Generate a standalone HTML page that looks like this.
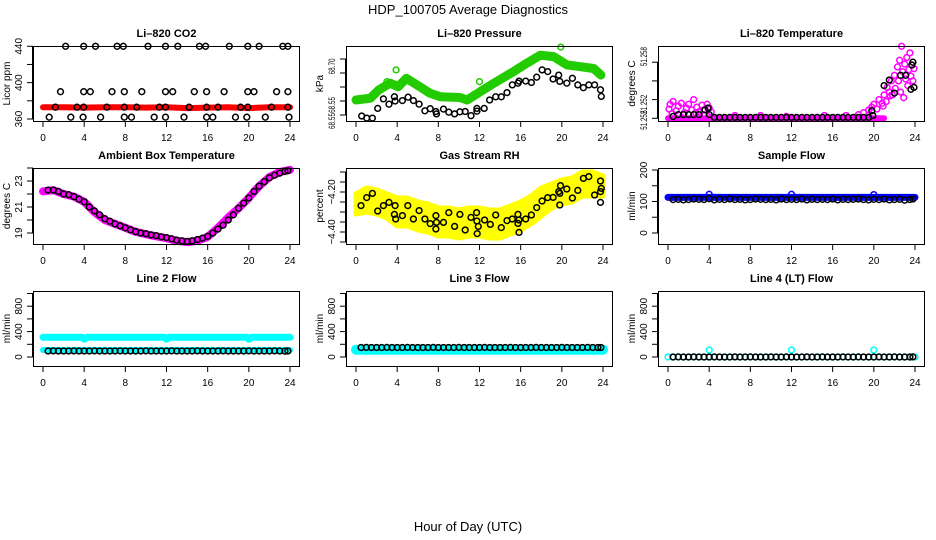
<!DOCTYPE html>
<html><head><meta charset="utf-8">
<style>
html,body{margin:0;padding:0;background:#fff;}
svg{display:block;font-family:"Liberation Sans",sans-serif;}
</style></head>
<body>
<svg id="chart" width="936" height="540" viewBox="0 0 936 540" xmlns="http://www.w3.org/2000/svg">
<rect x="0" y="0" width="936" height="540" fill="#fff"/>
<text x="468" y="14" text-anchor="middle" font-size="13">HDP_100705  Average Diagnostics</text>
<text x="468" y="531" text-anchor="middle" font-size="13">Hour of Day (UTC)</text>
</svg>
<script>
// ---------- data ----------
const xTicks = [0,4,8,12,16,20,24];
const halfHours = [0.5,1,1.5,2,2.5,3,3.5,4,4.5,5,5.5,6,6.5,7,7.5,8,8.5,9,9.5,10,10.5,11,11.5,12,12.5,13,13.5,14,14.5,15,15.5,16,16.5,17,17.5,18,18.5,19,19.5,20,20.5,21,21.5,22,22.5,23,23.5,23.8];

// CO2
const co2BandT = [0,2,4,6,8,10,12,14,16,18,20,22,24];
const co2BandV = [373,373,372.5,373,373,372.5,373,372,372.5,373,372,373,373];
const co2BlackT = [2.2,3.95,5.1,7.2,7.8,10.2,11.9,13.1,15.2,15.8,18.1,19.9,21.0,23.3,23.8,
  1.7,3.95,4.6,6.7,7.9,9.6,11.9,12.6,14.7,15.9,17.6,19.9,20.5,22.7,23.8,
  1.2,3.3,3.95,6.2,7.9,9.1,11.3,11.9,14.2,15.9,17.0,19.2,19.9,22.2,23.8,
  0.6,2.7,3.9,5.6,7.9,8.6,10.8,11.9,13.7,15.9,16.5,18.7,19.8,21.6,23.9];
const co2BlackV = [440,440,440,440,440,440,440,440,440,440,440,440,440,440,440,
  390,390,390,390,390,390,390,390,390,390,390,390,390,390,390,
  373,373,373,373,373,373,373,373,373,373,373,373,373,373,373,
  362,362,362,362,362,362,362,362,362,362,362,362,362,362,362];

// Pressure
const presBandT = [0,1.4,2.2,3.3,4.1,4.9,6.2,7.2,8.2,10.1,10.8,12.1,13.4,15.3,16.6,17.9,19.2,20.5,21.8,23.1,23.8];
const presBandV = [68.583,68.588,68.611,68.631,68.621,68.645,68.621,68.602,68.592,68.590,68.583,68.607,68.631,68.664,68.688,68.711,68.707,68.683,68.678,68.673,68.654];
const presOutT = [3.9,19.9,12.0,3.0];
const presOutV = [68.669,68.734,68.635,68.635];
const presBlackT = [0.55,1.04,1.59,2.11,2.66,3.21,3.73,3.80,4.51,5.06,5.58,6.13,6.69,7.21,7.76,7.82,8.50,9.02,9.58,10.10,10.61,11.17,11.75,11.75,12.46,12.98,13.57,14.12,14.67,15.19,15.74,15.84,16.49,17.04,17.56,18.08,18.63,19.15,19.70,19.80,20.48,21.03,21.55,22.10,22.62,23.18,23.76,23.83];
const presBlackV = [68.537,68.531,68.531,68.559,68.586,68.571,68.592,68.580,68.581,68.591,68.581,68.571,68.552,68.558,68.550,68.543,68.557,68.548,68.543,68.549,68.550,68.538,68.559,68.551,68.559,68.583,68.592,68.592,68.604,68.626,68.631,68.637,68.637,68.633,68.648,68.669,68.664,68.643,68.654,68.636,68.631,68.645,68.626,68.618,68.626,68.626,68.612,68.593];

// Li-820 temperature
const tempBandT = [0,21];
const tempBandV = [51.2520,51.2520];
const tempMagT = [0.1,0.2,0.5,0.8,1.0,1.3,1.6,1.8,2.0,2.3,2.5,2.8,3.0,3.3,3.5,3.8,4.0,4.2,0.4,1.5,2.7,3.6,6.5,9.0,11.5,15.2,17.3,18.5,19.0,19.5,19.8,20.0,20.3,20.5,20.8,21.0,21.2,21.3,21.5,21.7,21.8,22.0,22.1,22.3,22.4,22.5,22.6,22.7,22.8,23.0,23.1,23.2,23.3,23.4,23.5,23.6,23.7,23.8,23.9,22.9,21.6,20.9];
const tempMagV = [51.2530,51.2535,51.2538,51.2528,51.2533,51.2536,51.2526,51.2531,51.2535,51.2529,51.2540,51.2532,51.2527,51.2534,51.2529,51.2535,51.2531,51.2527,51.2525,51.2524,51.2526,51.2524,51.2523,51.2523,51.2522,51.2523,51.2523,51.2524,51.2526,51.2529,51.2532,51.2535,51.2530,51.2540,51.2536,51.2545,51.2538,51.2553,51.2548,51.2560,51.2545,51.2566,51.2552,51.2575,51.2560,51.2582,51.2548,51.2597,51.2570,51.2578,51.2562,51.2585,51.2555,51.2572,51.2590,51.2565,51.2577,51.2560,51.2573,51.2542,51.2544,51.2533];
const tempBlackT = [0.5,1,1.5,2,2.5,3,3.6,3.9,4.0,4.5,5,5.5,6,6.5,7,7.5,8,8.5,9,9.5,10,10.5,11,11.5,12,12.5,13,13.5,14,14.5,15,15.5,16,16.5,17,17.5,18,18.5,19,19.5,19.8,19.9,21.0,21.5,22.0,22.6,23.1,23.6,23.7,23.8,23.9];
const tempBlackV = [51.2522,51.2524,51.2524,51.2524,51.2524,51.2524,51.2529,51.2531,51.2524,51.2521,51.2521,51.2521,51.2521,51.2521,51.2521,51.2521,51.2521,51.2521,51.2521,51.2521,51.2521,51.2521,51.2521,51.2521,51.2521,51.2521,51.2521,51.2521,51.2521,51.2521,51.2521,51.2521,51.2521,51.2521,51.2521,51.2521,51.2521,51.2521,51.2521,51.2521,51.2528,51.2523,51.2555,51.2561,51.2547,51.2566,51.2566,51.2551,51.2577,51.2580,51.2553];

// Ambient box temperature
const ambBandT = [0,1,2,3,4,5,6,7,8,9,10,11,12,13,14,15,16,17,18,19,20,21,22,23,24];
const ambBandV = [22.2,22.3,22.0,21.8,21.4,20.6,20.0,19.7,19.4,19.1,18.9,18.75,18.6,18.4,18.3,18.4,18.7,19.4,20.2,20.9,21.7,22.6,23.3,23.7,23.85];
const ambBlackV = [22.3,22.3,22.2,22.0,21.95,21.8,21.6,21.4,21.0,20.7,20.4,20.1,19.9,19.7,19.55,19.4,19.25,19.1,19.0,18.95,18.85,18.8,18.7,18.65,18.55,18.45,18.4,18.35,18.4,18.5,18.6,18.75,19.0,19.3,19.6,20.0,20.4,20.9,21.3,21.7,22.2,22.6,22.95,23.25,23.45,23.6,23.75,23.8];

// Gas stream RH
const rhBandT = [0,1,2,3,4,5,6,7,8,9,10,11,12,13,14,15,16,17,18,19,20,21,22,23,24];
const rhCenter = [-4.26,-4.24,-4.25,-4.27,-4.30,-4.30,-4.32,-4.33,-4.35,-4.35,-4.36,-4.35,-4.35,-4.36,-4.36,-4.34,-4.32,-4.29,-4.25,-4.22,-4.20,-4.19,-4.16,-4.16,-4.17];
const rhSpread = [0.05,0.06,0.06,0.06,0.07,0.07,0.07,0.07,0.07,0.07,0.07,0.07,0.07,0.07,0.07,0.07,0.07,0.07,0.07,0.06,0.06,0.06,0.06,0.06,0.05];
const rhBlackT = [0.49,1.04,1.59,2.11,2.66,3.21,3.80,3.73,3.86,4.51,5.03,5.58,6.13,6.69,7.21,7.76,7.82,7.76,8.50,9.02,9.58,10.10,10.61,11.17,11.72,11.75,11.88,11.78,12.50,13.05,13.57,14.12,14.67,15.19,15.74,15.84,15.74,15.84,16.49,17.04,17.56,18.08,18.63,19.15,19.70,19.80,19.87,19.80,20.48,21.03,21.55,22.10,22.62,23.18,23.76,23.83,23.76,23.76];
const rhBlackV = [-4.268,-4.228,-4.207,-4.295,-4.268,-4.252,-4.268,-4.312,-4.335,-4.318,-4.268,-4.335,-4.293,-4.335,-4.358,-4.318,-4.352,-4.385,-4.352,-4.303,-4.372,-4.312,-4.390,-4.327,-4.303,-4.345,-4.372,-4.408,-4.340,-4.362,-4.315,-4.378,-4.343,-4.335,-4.312,-4.340,-4.357,-4.402,-4.335,-4.315,-4.278,-4.245,-4.228,-4.227,-4.198,-4.207,-4.168,-4.265,-4.185,-4.230,-4.192,-4.132,-4.123,-4.215,-4.145,-4.182,-4.198,-4.252];

// Sample flow
const sfBandT = [0,24];
const sfBandV = [113,113];
const sfOutT = [4,12,20];
const sfOutV = [123,123,122];
const sfBlackV = [106,107,105,106,108,107,106,109,105,107,106,108,106,107,105,106,108,107,106,107,105,108,106,107,106,108,105,107,106,107,106,108,105,107,106,107,108,106,105,107,106,108,105,106,107,104,106,108];

// Line 2 flow
const l2UpperT = [0,3.8,4,4.3,11.8,12,12.3,19.8,20,20.3,24];
const l2UpperV = [310,312,280,312,312,280,312,312,280,310,310];
const l2LowerT = [0,24];
const l2LowerV = [110,110];
const l2BlackV = [95,96,94,95,95,96,95,94,95,96,95,95,94,95,96,95,95,94,95,96,95,95,94,95,96,95,95,94,95,96,95,95,94,95,96,95,95,94,95,96,95,95,94,95,96,95,92,95];

// Line 3 flow
const l3BandT = [0,24];
const l3BandV = [115,115];
const l3BlackV = [150,151,149,150,150,151,150,149,150,151,150,150,149,150,151,150,150,149,150,151,150,150,149,150,151,150,150,149,150,151,150,150,149,150,151,150,150,149,150,151,150,150,149,150,151,150,150,149];

// Line 4 flow
const l4CyanT = [0,0.5,1,1.5,2,2.5,3,3.5,4,4.5,5,5.5,6,6.5,7,7.5,8,8.5,9,9.5,10,10.5,11,11.5,12,12.5,13,13.5,14,14.5,15,15.5,16,16.5,17,17.5,18,18.5,19,19.5,20,20.5,21,21.5,22,22.5,23,23.5,24,4,12,20];
const l4CyanV = [0,0,0,0,0,0,0,0,0,0,0,0,0,0,0,0,0,0,0,0,0,0,0,0,0,0,0,0,0,0,0,0,0,0,0,0,0,0,0,0,0,0,0,0,0,0,0,0,0,110,110,110];
const l4BlackV = [0,1,0,0,1,0,0,0,1,0,0,0,1,0,0,1,0,0,0,1,0,0,1,0,0,0,1,0,0,1,0,0,0,1,0,0,1,0,0,0,1,0,0,1,0,0,0,1];

// ---------- drawing ----------
const NS = "http://www.w3.org/2000/svg";
const svg = document.getElementById('chart');
const lefts = [33,346,658], tops = [46,168,291], bottoms = [121,244,366];

function mk(tag, attrs, parent){
  const el = document.createElementNS(NS, tag);
  for (const k in attrs) el.setAttribute(k, attrs[k]);
  parent.appendChild(el);
  return el;
}

const panels = [
 {title:'Li\u2013820 CO2', ylab:'Licor ppm', c:0,r:0, v0:360,p0:119,k:0.909, ticks:[360,380,400,420,440], labels:[[360,'360'],[400,'400'],[440,'440']]},
 {title:'Li\u2013820 Pressure', ylab:'kPa', c:1,r:0, v0:68.70,p0:59,k:350, ticks:[68.70,68.66,68.62,68.58,68.54], labels:[[68.679,'68.70'],[68.569,'68.55'],[68.523,'68.55']]},
 {title:'Li\u2013820 Temperature', ylab:'degrees C', c:2,r:0, v0:51.252,p0:118.3,k:9350, ticks:[51.252,51.254,51.256,51.258], labels:[[51.2586,'51.258'],[51.2535,'51.252'],[51.2518,'51.252']]},
 {title:'Ambient Box Temperature', ylab:'degrees C', c:0,r:1, v0:23,p0:181,k:13, ticks:[19,20,21,22,23,24], labels:[[19,'19'],[21,'21'],[23,'23']]},
 {title:'Gas Stream RH', ylab:'percent', c:1,r:1, v0:-4.20,p0:192,k:200, ticks:[-4.10,-4.15,-4.20,-4.25,-4.30,-4.35,-4.40,-4.45], labels:[[-4.20,'\u22124.20'],[-4.40,'\u22124.40']]},
 {title:'Sample Flow', ylab:'ml/min', c:2,r:1, v0:0,p0:233,k:0.315, ticks:[0,50,100,150,200], labels:[[0,'0'],[100,'100'],[200,'200']]},
 {title:'Line 2 Flow', ylab:'ml/min', c:0,r:2, v0:0,p0:357,k:0.0635, ticks:[0,200,400,600,800,1000], labels:[[0,'0'],[400,'400'],[800,'800']]},
 {title:'Line 3 Flow', ylab:'ml/min', c:1,r:2, v0:0,p0:357,k:0.0635, ticks:[0,200,400,600,800,1000], labels:[[0,'0'],[400,'400'],[800,'800']]},
 {title:'Line 4 (LT) Flow', ylab:'ml/min', c:2,r:2, v0:0,p0:357,k:0.0635, ticks:[0,200,400,600,800,1000], labels:[[0,'0'],[400,'400'],[800,'800']]}
];

function xs(p,t){ return lefts[p.c] + 10 + t/24*247; }
function ys(p,v){ return p.p0 - (v - p.v0)*p.k; }

function band(p, g, T, V, color, w, name){
  let pts = T.map((t,i)=>xs(p,t).toFixed(1)+','+ys(p,V[i]).toFixed(1)).join(' ');
  const el = mk('polyline',{points:pts, fill:'none', stroke:color, 'stroke-width':w, 'stroke-linecap':'round','stroke-linejoin':'round'}, g);
  
  
}
function dots(p, g, T, V, color, name){
  T.forEach((t,i)=>{
    const el = mk('circle',{cx:xs(p,t).toFixed(1), cy:ys(p,V[i]).toFixed(1), r:2.9, fill:'none', stroke:color, 'stroke-width':1.5}, g);
    
    
  });
}

panels.forEach((p,idx)=>{
  const g = mk('g',{}, svg);
  
  
  const L = lefts[p.c], T = tops[p.r], B = bottoms[p.r];
  const title = mk('text',{x:L+133.5, y:T-9, 'text-anchor':'middle','font-size':11,'font-weight':'bold'}, g);
  title.textContent = p.title;
  
  
  const xa = mk('g',{}, g);
  
  
  mk('line',{x1:xs(p,0),x2:xs(p,24),y1:B+0.5,y2:B+0.5,stroke:'#000','stroke-width':1}, xa);
  xTicks.forEach(t=>{
    mk('line',{x1:xs(p,t),x2:xs(p,t),y1:B,y2:B+6,stroke:'#000','stroke-width':1}, xa);
    const tx = mk('text',{x:xs(p,t), y:B+20,'text-anchor':'middle','font-size':10}, xa);
    tx.textContent = t;
    
    
  });
  const ya = mk('g',{}, g);
  
  
  p.ticks.forEach(v=>{
    mk('line',{x1:L-6,x2:L,y1:ys(p,v),y2:ys(p,v),stroke:'#000','stroke-width':1}, ya);
  });
  const tv = p.ticks.map(v=>ys(p,v));
  mk('line',{x1:L-0.5,x2:L-0.5,y1:Math.min(...tv),y2:Math.max(...tv),stroke:'#000','stroke-width':1}, ya);
  const narrow = (idx===1 || idx===2);
  p.labels.forEach(l=>{
    const y = ys(p,l[0]);
    const attrs = {x:0,y:0,'text-anchor':'middle','font-size':narrow?9:10, transform:'translate('+(L-11)+','+y.toFixed(1)+') rotate(-90)'};
    if (narrow) { attrs.textLength = (l[1].length>5?19:16); attrs.lengthAdjust='spacingAndGlyphs'; }
    const tx = mk('text',attrs, ya);
    tx.textContent = l[1];
    
    
  });
  const yt = mk('text',{x:0,y:0,'text-anchor':'middle','font-size':10, transform:'translate('+(L-23)+','+((T+B)/2)+') rotate(-90)'}, g);
  yt.textContent = p.ylab;
  
  
  const d = mk('g',{}, g);
  
  
  p.g = d;
  const box = mk('rect',{x:L+0.5,y:T+0.5,width:266,height:B-T,fill:'none',stroke:'#000','stroke-width':1}, g);
  
  
});

let P = panels;
band(P[0],P[0].g,co2BandT,co2BandV,'#ff0000',6,'co2-red-series');
dots(P[0],P[0].g,co2BlackT,co2BlackV,'#000','co2-black-point');

band(P[1],P[1].g,presBandT,presBandV,'#22cc00',9,'pressure-green-series');
dots(P[1],P[1].g,presOutT,presOutV,'#22cc00','pressure-green-point');
dots(P[1],P[1].g,presBlackT,presBlackV,'#000','pressure-black-point');

band(P[2],P[2].g,tempBandT,tempBandV,'#ff00ff',6,'li820-temp-magenta-series');
dots(P[2],P[2].g,tempMagT,tempMagV,'#ff00ff','li820-temp-magenta-point');
dots(P[2],P[2].g,tempBlackT,tempBlackV,'#000','li820-temp-black-point');

band(P[3],P[3].g,ambBandT,ambBandV,'#ff00ff',8,'ambient-magenta-series');
dots(P[3],P[3].g,halfHours,ambBlackV,'#000','ambient-black-point');

(function(){
  const p = P[4];
  const up = rhBandT.map((t,i)=>xs(p,t).toFixed(1)+','+ys(p,rhCenter[i]+rhSpread[i]).toFixed(1));
  const lo = rhBandT.map((t,i)=>xs(p,t).toFixed(1)+','+ys(p,rhCenter[i]-rhSpread[i]).toFixed(1)).reverse();
  const el = mk('polygon',{points:up.concat(lo).join(' '), fill:'#ffff00', stroke:'#ffff00','stroke-width':5,'stroke-linejoin':'round'}, p.g);
  
  
})();
dots(P[4],P[4].g,rhBlackT,rhBlackV,'#000','rh-black-point');

band(P[5],P[5].g,sfBandT,sfBandV,'#0000ff',7,'sample-flow-blue-series');
dots(P[5],P[5].g,sfOutT,sfOutV,'#0000ff','sample-flow-blue-point');
dots(P[5],P[5].g,halfHours,sfBlackV,'#000','sample-flow-black-point');

band(P[6],P[6].g,l2UpperT,l2UpperV,'#00ffff',7,'line2-cyan-upper-series');
band(P[6],P[6].g,l2LowerT,l2LowerV,'#00ffff',6,'line2-cyan-lower-series');
dots(P[6],P[6].g,halfHours,l2BlackV,'#000','line2-black-point');

band(P[7],P[7].g,l3BandT,l3BandV,'#00ffff',10,'line3-cyan-series');
dots(P[7],P[7].g,halfHours,l3BlackV,'#000','line3-black-point');

dots(P[8],P[8].g,l4CyanT,l4CyanV,'#00ffff','line4-cyan-point');
dots(P[8],P[8].g,halfHours,l4BlackV,'#000','line4-black-point');
</script>
</body></html>
